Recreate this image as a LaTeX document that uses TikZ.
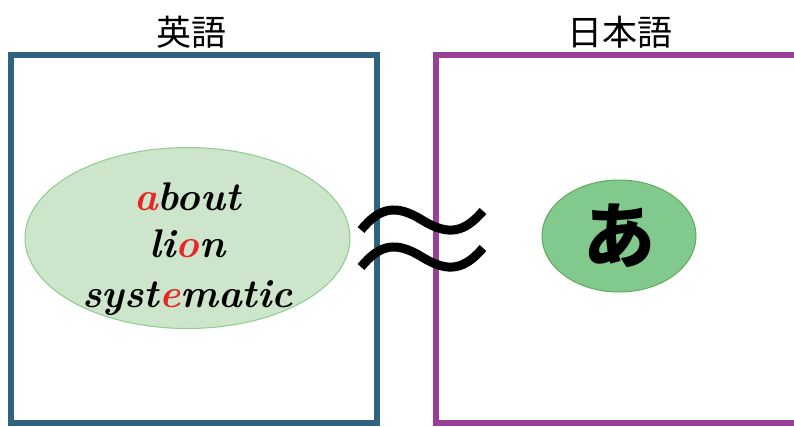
\documentclass[tikz,border=0pt]{standalone}
\usepackage{fontspec}
\newfontfamily\cjk{Noto Sans CJK JP}
\usetikzlibrary{shapes.geometric}
\definecolor{boxblue}{RGB}{47,100,128}
\definecolor{boxpurple}{RGB}{152,64,152}
\definecolor{fillA}{RGB}{205,230,203}
\definecolor{lineA}{RGB}{140,205,140}
\definecolor{fillB}{RGB}{130,201,142}
\definecolor{lineB}{RGB}{96,170,90}
\definecolor{hired}{RGB}{232,38,40}
\tikzset{
  panel/.style={draw=#1, line width=6pt, inner sep=0pt, outer sep=0pt, anchor=north west, minimum height=368pt},
  title/.style={font=\cjk\fontsize{35}{35}\selectfont, inner sep=0pt},
  word/.style={anchor=base, inner sep=0pt, font=\fontsize{40}{40}\selectfont\bfseries\itshape},
  wave/.style={line width=9pt, line cap=butt}
}
\newcommand{\hl}[1]{\textcolor{hired}{#1}}
\begin{document}
\begin{tikzpicture}[x=1pt,y=-1pt]
\useasboundingbox (0,0) rectangle (794,426);
\clip (0,0) rectangle (794,426);
\fill[white] (0,0) rectangle (794,426);
% panels
\node[panel=boxblue, minimum width=366pt] (en) at (11,55) {};
\node[panel=boxpurple, minimum width=464pt] (ja) at (436,55) {};
% titles
\node[title] (enT) at (191,32) {英語};
\node[title] (jaT) at (620,32) {日本語};
% ellipses
\node[ellipse, draw=lineA, fill=fillA, line width=1pt, minimum width=325pt, minimum height=181pt, inner sep=0pt] (eA) at (187.5,238) {};
\node[ellipse, draw=lineB, fill=fillB, line width=1pt, minimum width=154pt, minimum height=112pt, inner sep=0pt, font=\cjk\bfseries\fontsize{72}{72}\selectfont] (eB) at (619,236) {あ};
% words
\node[word] (w1) at (187.5,210) {\hl{a}bout};
\node[word] (w2) at (187.5,257) {li\hl{o}n};
\node[word] (w3) at (187.5,307) {syst\hl{e}matic};
% approx sign
\draw[wave] (361,230) .. controls (380,207) and (396,204) .. (422,220) .. controls (448,236) and (464,233) .. (483,211);
\draw[wave] (361,267) .. controls (380,244) and (396,241) .. (422,257) .. controls (448,273) and (464,270) .. (483,248);
\end{tikzpicture}
\end{document}
